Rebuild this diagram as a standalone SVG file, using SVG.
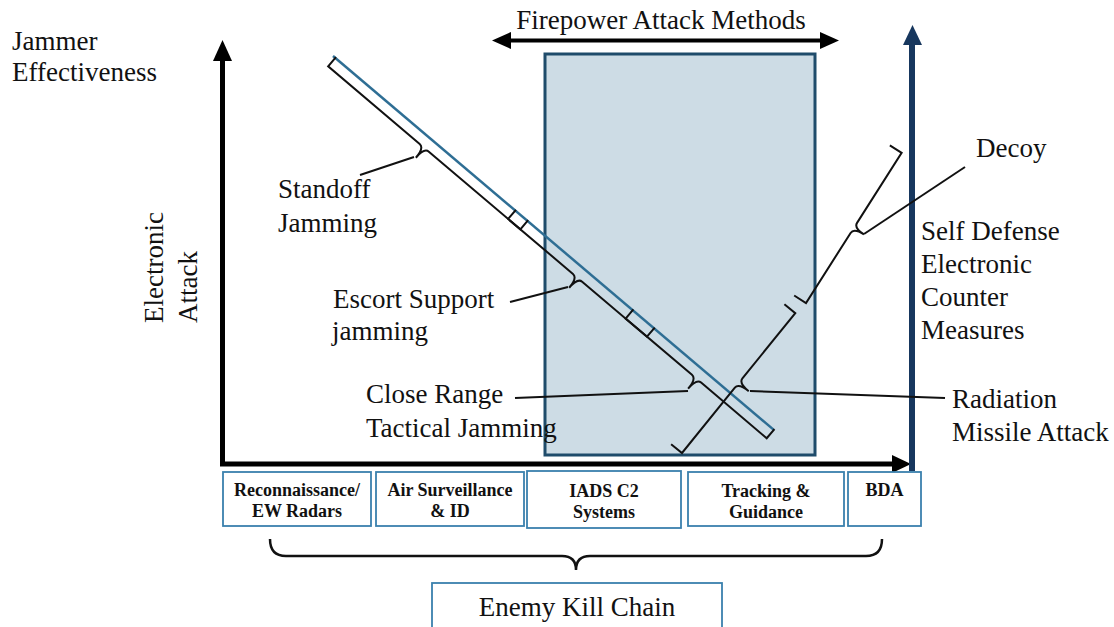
<svg xmlns="http://www.w3.org/2000/svg" width="1114" height="627" viewBox="0 0 1114 627">
<style>
.lbl{font-family:"Liberation Serif","Times New Roman",serif;font-size:27px;fill:#111}
.box{fill:#fff;stroke:#3a80ad;stroke-width:1.8}
.btxt{font-family:"Liberation Serif","Times New Roman",serif;font-size:18px;font-weight:bold;fill:#111;text-anchor:middle}
.br{fill:none;stroke:#111;stroke-width:2;stroke-linejoin:miter}
.ld{fill:none;stroke:#111;stroke-width:2}
</style>
<rect width="1114" height="627" fill="#fff"/>
<g id="firepower-zone">
<rect x="545" y="54" width="270" height="401" fill="#cddce5" stroke="#1f4c6b" stroke-width="3"/>
</g>
<g id="axes">
<line x1="222.5" y1="466" x2="222.5" y2="58" stroke="#000" stroke-width="5"/>
<polygon points="222.5,40 213,61 232,61" fill="#000"/>
<line x1="220" y1="464" x2="895" y2="464" stroke="#000" stroke-width="5"/>
<polygon points="911,464 892,455 892,473" fill="#000"/>
<line x1="912" y1="471" x2="912" y2="42" stroke="#17375e" stroke-width="6"/>
<polygon points="912.5,25 903,45 922,45" fill="#17375e"/>
</g>
<g id="firepower-arrow">
<line x1="508" y1="40.5" x2="822" y2="40.5" stroke="#000" stroke-width="4"/>
<polygon points="492,40.5 511,32 511,49" fill="#000"/>
<polygon points="839,40.5 820,32 820,49" fill="#000"/>
<text class="lbl" x="661" y="29" text-anchor="middle">Firepower Attack Methods</text>
</g>
<g id="axis-labels">
<text class="lbl" x="12" y="50">Jammer</text>
<text class="lbl" x="12" y="81">Effectiveness</text>
<text class="lbl" transform="translate(163,323) rotate(-90)">Electronic</text>
<text class="lbl" transform="translate(197,323) rotate(-90)">Attack</text>
</g>
<g id="connectors">
<g transform="translate(333,56) rotate(40.3)">
<line x1="0" y1="0" x2="578" y2="0" stroke="#2e6e94" stroke-width="2.5"/>
<path class="br" d="M3,-1 L3,11 L123,11 Q129,11 129,24 Q129,11 135,11 L255,11 L255,-1"/>
<path class="br" d="M239,-1 L239,11 L324,11 Q330,11 330,24 Q330,11 336,11 L421,11 L421,-1"/>
<path class="br" d="M393,-1 L393,11 L480,11 Q486,11 486,24 Q486,11 492,11 L578,11 L578,-1"/>
</g>
<g transform="translate(682,453) rotate(-51)">
<path class="br" d="M0,-14 L0,0 L84,0 Q90,0 90,13 Q90,0 96,0 L180,0 L180,-14"/>
</g>
<g transform="translate(806,303) rotate(-57.5)">
<path class="br" d="M0,-14 L0,0 L83,0 Q89,0 89,12 Q89,0 95,0 L178,0 L178,-14"/>
</g>
<polyline class="ld" points="414,157 360,175"/>
<polyline class="ld" points="568,287 510,302"/>
<polyline class="ld" points="688,391 515,398"/>
<polyline class="ld" points="750,391 945,398"/>
<polyline class="ld" points="864,234 965,167"/>
<path d="M270,539 Q270,556 286,556 L562,556 Q576,556 576,570 Q576,556 590,556 L866,556 Q882,556 882,539" fill="none" stroke="#111" stroke-width="2.5"/>
</g>
<g id="labels">
<text class="lbl" x="278" y="198">Standoff</text>
<text class="lbl" x="278" y="232">Jamming</text>
<text class="lbl" x="333" y="308">Escort Support</text>
<text class="lbl" x="332" y="340">jamming</text>
<text class="lbl" x="366" y="403">Close Range</text>
<text class="lbl" x="366" y="437">Tactical Jamming</text>
<text class="lbl" x="976" y="157">Decoy</text>
<text class="lbl" x="921" y="240">Self Defense</text>
<text class="lbl" x="921" y="273">Electronic</text>
<text class="lbl" x="921" y="306">Counter</text>
<text class="lbl" x="921" y="339">Measures</text>
<text class="lbl" x="952" y="408">Radiation</text>
<text class="lbl" x="952" y="441">Missile Attack</text>
</g>
<g id="box-recon">
<rect class="box" x="223" y="472" width="148" height="54"/>
<text class="btxt" x="297" y="496">Reconnaissance/</text>
<text class="btxt" x="297" y="517">EW Radars</text>
</g>
<g id="box-airsurv">
<rect class="box" x="376" y="472" width="148" height="54"/>
<text class="btxt" x="450" y="496">Air Surveillance</text>
<text class="btxt" x="450" y="517">&amp; ID</text>
</g>
<g id="box-iads">
<rect class="box" x="527" y="471" width="154" height="57"/>
<text class="btxt" x="604" y="497">IADS C2</text>
<text class="btxt" x="604" y="518">Systems</text>
</g>
<g id="box-tracking">
<rect class="box" x="688" y="472" width="156" height="54"/>
<text class="btxt" x="766" y="497">Tracking &amp;</text>
<text class="btxt" x="766" y="518">Guidance</text>
</g>
<g id="box-bda">
<rect class="box" x="848" y="472" width="73" height="54"/>
<text class="btxt" x="884.5" y="496">BDA</text>
</g>
<g id="box-killchain">
<rect class="box" x="432" y="583" width="290" height="50"/>
<text class="lbl" x="577" y="616" text-anchor="middle">Enemy Kill Chain</text>
</g>
</svg>
